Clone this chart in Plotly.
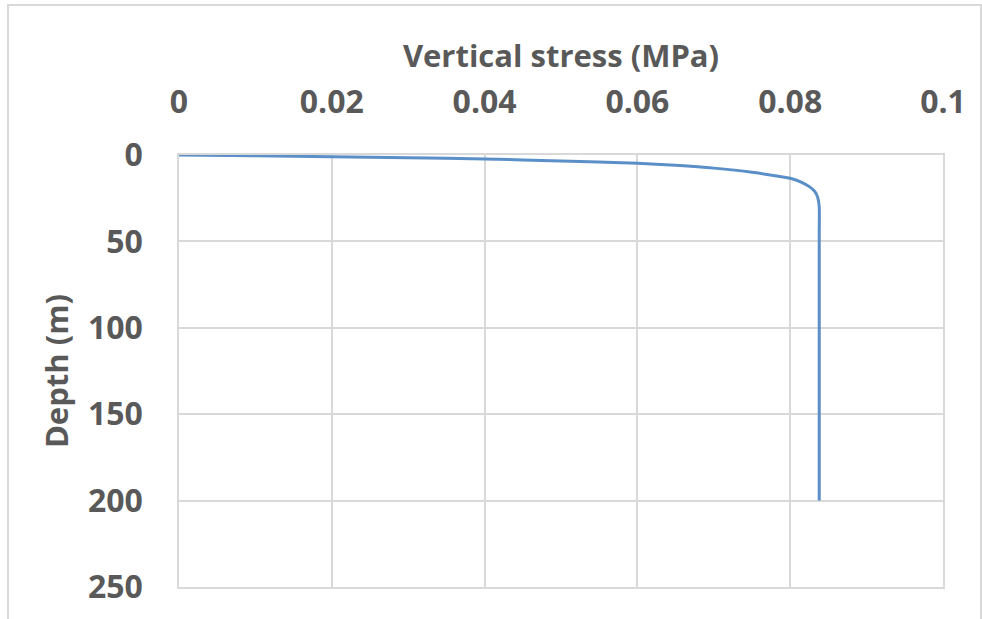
import plotly.graph_objects as go

# Vertical stress profile with depth
stress_mpa = [0, 0.01, 0.02, 0.03, 0.04, 0.05, 0.06, 0.065, 0.07, 0.075,
              0.08, 0.0815, 0.0825, 0.0832, 0.0836, 0.0838, 0.0838, 0.0838]
depth_m = [0, 0.5, 1.0, 1.6, 2.3, 3.4, 4.8, 6.0, 7.6, 10.0,
           13.5, 15.8, 18.3, 21.0, 24.5, 30.0, 45.0, 200]

x_ticks = [0, 0.02, 0.04, 0.06, 0.08, 0.1]
x_tick_text = ["0", "0.02", "0.04", "0.06", "0.08", "0.1"]
y_ticks = [0, 50, 100, 150, 200, 250]

W, H = 982, 619
L, R, T, B = 179, 943, 155, 587  # plot area in pixels
grey_text = "#595959"
grid = "#d9d9d9"
font_family = "Open Sans"

fig = go.Figure()
fig.add_trace(go.Scatter(
    x=stress_mpa, y=depth_m, mode="lines",
    line=dict(color="#5b8fc7", width=3, shape="spline", smoothing=0.6),
    showlegend=False, hoverinfo="skip",
))

pw, ph = R - L, B - T
fig.add_shape(
    type="rect", xref="paper", yref="paper",
    x0=(8 - L) / pw, x1=(981 - L) / pw,
    y0=(B - 625) / ph, y1=(B - 5) / ph,
    line=dict(color=grid, width=2), fillcolor="rgba(0,0,0,0)", layer="below",
)

fig.update_layout(
    width=W, height=H,
    margin=dict(l=L, r=W - R, t=T, b=H - B, pad=0),
    paper_bgcolor="white", plot_bgcolor="white",
    font=dict(family=font_family, color=grey_text),
    xaxis=dict(
        side="top", range=[0, 0.1], tickvals=x_ticks, ticktext=x_tick_text,
        showgrid=True, gridcolor=grid, gridwidth=1.5,
        showline=True, linecolor=grid, linewidth=1.5, mirror=True,
        zeroline=False, ticks="outside", ticklen=27, tickcolor="rgba(0,0,0,0)",
        tickfont=dict(size=32, family=font_family, color=grey_text, weight="bold"),
        title=dict(text="Vertical stress (MPa)", standoff=3,
                   font=dict(size=31, family=font_family, color=grey_text, weight="bold")),
    ),
    yaxis=dict(
        range=[250, 0], tickvals=y_ticks,
        showgrid=True, gridcolor=grid, gridwidth=1.5,
        showline=True, linecolor=grid, linewidth=1.5, mirror=True,
        zeroline=False, ticks="outside", ticklen=28, tickcolor="rgba(0,0,0,0)",
        tickfont=dict(size=32, family=font_family, color=grey_text, weight="bold"),
        title=dict(text="Depth (m)", standoff=10,
                   font=dict(size=31, family=font_family, color=grey_text, weight="bold")),
    ),
)

fig.write_html("out.html")
